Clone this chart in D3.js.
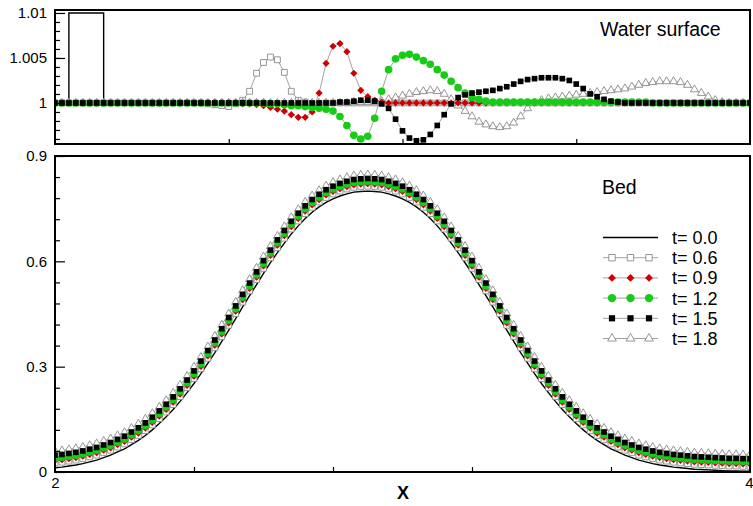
<!DOCTYPE html>
<html>
<head>
<meta charset="utf-8">
<script src="https://cdn.jsdelivr.net/npm/d3@7"></script>
<style>
  body { margin: 0; background: #fff; }
  svg { font-family: "Liberation Sans", Arial, sans-serif; }
</style>
</head>
<body>
<svg width="753" height="506"></svg>
<script>
const seriesNames = ['t= 0.0', 't= 0.6', 't= 0.9', 't= 1.2', 't= 1.5', 't= 1.8'];

// mesh nodes, dx = 0.02
const nodeX = d3.range(101).map(i => 2 + i * 0.02);

// water surface, t = 0 : rectangular hump
const surf00X = [2, 2.04, 2.04, 2.14, 2.14, 4];
const surf00Y = [1, 1, 1.01, 1.01, 1, 1];

// water surface for later times: first node + deviation from 1 (x 1e-4)
const surf06Start = 22;
const surf06Dev = [-1, -2, -3, -4, -1, 3, 13, 33, 45, 51, 48, 34, 13, 3, 1, -1, -1, 0];
const surf09Start = 27;
const surf09Dev = [-1, -1, -2, -3, -5, -7, -9, -13, -16, -16, -10, 11, 44, 63, 66, 57, 33, 14, 7, 3, 1, 0];
const surf12Start = 31;
const surf12Dev = [-1, -1, -2, -3, -3, -4, -5, -6, -7, -9, -15, -25, -36, -40, -37, -17, 13, 37, 49, 53,
  54, 51, 47, 43, 37, 31, 24, 17, 11, 6, 4, 2, 1, 1, 1, 1, 1, 1, 1, 1, 1, 1, 1, 1, 1, 1, 1, 1, 1, 1, 1, 1, 1, 1, 1, 0];
const surf15Start = 41;
const surf15Dev = [1, 1, 2, 3, 3, 2, -1, -6, -18, -31, -39, -42, -41, -35, -25, -13, -1, 6, 9, 11,
  12, 13, 14, 16, 18, 21, 24, 26, 27, 28, 28, 28, 27, 25, 21, 16, 10, 7, 4, 2, 1, 0];
const surf18Start = 42;
const surf18Dev = [0, 1, 1, 1, 1, 2, 4, 6, 8, 10, 12, 13, 14, 13, 10, 4, -3, -9, -15, -21,
  -24, -26, -27, -26, -22, -15, -6, 0, 3, 5, 6, 7, 8, 9, 10, 11, 12, 13, 14, 15,
  16, 18, 20, 22, 23, 24, 24, 24, 23, 20, 15, 11, 7, 3, 1, 0];

// bed at t = 0, one value per node
const bed00 = [
  0.012, 0.014, 0.017, 0.020, 0.024, 0.029, 0.034, 0.041, 0.048, 0.057,
  0.066, 0.078, 0.090, 0.104, 0.120, 0.138, 0.157, 0.178, 0.201, 0.226,
  0.252, 0.280, 0.310, 0.340, 0.372, 0.404, 0.437, 0.470, 0.502, 0.534,
  0.566, 0.596, 0.625, 0.652, 0.678, 0.701, 0.722, 0.740, 0.755, 0.768,
  0.778, 0.786, 0.792, 0.797, 0.799, 0.800,
  0.799, 0.797, 0.792, 0.786, 0.778, 0.768, 0.755, 0.740, 0.722, 0.701,
  0.678, 0.652, 0.625, 0.596, 0.566, 0.534, 0.502, 0.470, 0.437, 0.404,
  0.372, 0.340, 0.310, 0.280, 0.252, 0.226, 0.201, 0.178, 0.157, 0.138,
  0.120, 0.104, 0.090, 0.078, 0.066, 0.057, 0.048, 0.041, 0.034, 0.029,
  0.024, 0.020, 0.017, 0.014, 0.012, 0.010, 0.008, 0.007, 0.006, 0.005,
  0.004, 0.003, 0.003, 0.002, 0.002
];
// how far the bed markers of t = 0.6 ... 1.8 sit above the t = 0 bed
const bedRise = [0.014, 0.021, 0.028, 0.036, 0.047];

const xTicks = [2, 4], xTickLabels = ['2', '4'];
const surfTicks = [1, 1.005, 1.01], surfTickLabels = ['1', '1.005', '1.01'];
const bedTicks = [0, 0.3, 0.6, 0.9], bedTickLabels = ['0', '0.3', '0.6', '0.9'];

const svg = d3.select('svg');

const x = d3.scaleLinear().domain([2, 4]).range([55, 750]);
const ySurf = d3.scaleLinear().domain([0.99544, 1.01033]).range([144, 10]);
const yBed = d3.scaleLinear().domain([0, 0.9]).range([472, 156]);

function expand(start, dev) {
  return nodeX.map((d, i) => 1 + (dev[i - start] || 0) * 1e-4);
}

const surfSeries = [
  expand(surf06Start, surf06Dev),
  expand(surf09Start, surf09Dev),
  expand(surf12Start, surf12Dev),
  expand(surf15Start, surf15Dev),
  expand(surf18Start, surf18Dev)
];
const bedSeries = bedRise.map(r => bed00.map(v => v + r));

// marker styles for t = 0.6 .. 1.8
const styles = [
  { type: d3.symbolSquare, size: 34, rot: 0, fill: '#fff', stroke: '#8a8a8a' },
  { type: d3.symbolSquare, size: 26, rot: 45, fill: '#cc0000', stroke: 'none' },
  { type: d3.symbolCircle, size: 46, rot: 0, fill: '#16cc16', stroke: 'none' },
  { type: d3.symbolSquare, size: 32, rot: 0, fill: '#000', stroke: 'none' },
  { type: d3.symbolTriangle, size: 28, rot: 0, fill: '#fff', stroke: '#8a8a8a' }
];
// drawing order: squares, triangles, then the filled ones on top
const drawOrder = [0, 4, 1, 2, 3];

const defs = svg.append('defs');
defs.append('clipPath').attr('id', 'clipTop')
  .append('rect').attr('x', 55).attr('y', 10).attr('width', 695).attr('height', 134);
defs.append('clipPath').attr('id', 'clipBed')
  .append('rect').attr('x', 55).attr('y', 156).attr('width', 695).attr('height', 316);

function drawPanel(clipId, yScale, t0x, t0y, series) {
  const g = svg.append('g').attr('clip-path', `url(#${clipId})`);

  g.append('path')
    .attr('d', d3.line().x((d, i) => x(t0x[i])).y(d => yScale(d))(t0y))
    .attr('fill', 'none')
    .attr('stroke', '#000')
    .attr('stroke-width', 1.4);

  drawOrder.forEach(k => {
    const vals = series[k];
    const st = styles[k];
    g.append('path')
      .attr('d', d3.line().x((d, i) => x(nodeX[i])).y(d => yScale(d))(vals))
      .attr('fill', 'none')
      .attr('stroke', '#a3a3a3')
      .attr('stroke-width', 1);

    g.append('g')
      .selectAll('path')
      .data(vals)
      .join('path')
      .attr('d', d3.symbol().type(st.type).size(st.size))
      .attr('transform', (d, i) => `translate(${x(nodeX[i])},${yScale(d)}) rotate(${st.rot})`)
      .attr('fill', st.fill)
      .attr('stroke', st.stroke)
      .attr('stroke-width', 0.9);
  });
}

drawPanel('clipTop', ySurf, surf00X, surf00Y, surfSeries);
drawPanel('clipBed', yBed, nodeX, bed00, bedSeries);

// axes
function styleAxis(g, size) {
  g.select('.domain').remove();
  g.selectAll('line').attr('stroke', '#000').attr('stroke-width', 1.2);
  g.selectAll('text').attr('fill', '#000').style('font-size', size + 'px');
}

svg.append('g').attr('transform', 'translate(55,0)')
  .call(d3.axisLeft(ySurf).tickValues(d3.range(0.996, 1.0095, 0.001)).tickSize(-5).tickFormat(''))
  .call(g => styleAxis(g, 15));
svg.append('g').attr('transform', 'translate(55,0)')
  .call(d3.axisLeft(ySurf).tickValues(surfTicks).tickSize(-10).tickPadding(8)
    .tickFormat((d, i) => surfTickLabels[i]))
  .call(g => styleAxis(g, 15));

const bedMinor = d3.range(0.06, 0.9, 0.06).filter(v => Math.abs(v / 0.3 - Math.round(v / 0.3)) > 0.01);
svg.append('g').attr('transform', 'translate(55,0)')
  .call(d3.axisLeft(yBed).tickValues(bedMinor).tickSize(-5).tickFormat(''))
  .call(g => styleAxis(g, 15));
svg.append('g').attr('transform', 'translate(55,0)')
  .call(d3.axisLeft(yBed).tickValues(bedTicks).tickSize(-10).tickPadding(8)
    .tickFormat((d, i) => bedTickLabels[i]))
  .call(g => styleAxis(g, 15));

svg.append('g').attr('transform', 'translate(0,144)')
  .call(d3.axisBottom(x).tickValues([2.5, 3, 3.5]).tickSize(-5).tickFormat(''))
  .call(g => styleAxis(g, 15));
svg.append('g').attr('transform', 'translate(0,472)')
  .call(d3.axisBottom(x).tickValues([2.4, 2.8, 3.2, 3.6]).tickSize(-5).tickFormat(''))
  .call(g => styleAxis(g, 15));
svg.append('g').attr('transform', 'translate(0,472)')
  .call(d3.axisBottom(x).tickValues(xTicks).tickSize(0).tickPadding(5)
    .tickFormat((d, i) => xTickLabels[i]))
  .call(g => styleAxis(g, 15))
  .call(g => g.selectAll('text').filter((d, i) => i === 1)
    .attr('text-anchor', 'end').attr('x', 753 - x(4)));

// frames
svg.append('rect').attr('x', 55).attr('y', 10).attr('width', 695).attr('height', 134)
  .attr('fill', 'none').attr('stroke', '#000').attr('stroke-width', 2);
svg.append('rect').attr('x', 55).attr('y', 156).attr('width', 695).attr('height', 316)
  .attr('fill', 'none').attr('stroke', '#000').attr('stroke-width', 2);

// titles
svg.append('text').attr('x', 600).attr('y', 36).text('Water surface')
  .style('font-size', '19.5px').attr('fill', '#000');
svg.append('text').attr('x', 602).attr('y', 194).text('Bed')
  .style('font-size', '19.5px').attr('fill', '#000');
svg.append('text').attr('x', 403).attr('y', 499).text('X')
  .attr('text-anchor', 'middle').style('font-size', '18px').style('font-weight', 'bold');

// legend
const legend = svg.append('g');
const rowY = d => 237.5 + d * 20.2;
seriesNames.forEach((name, k) => {
  const row = legend.append('g').attr('transform', `translate(0,${rowY(k)})`);
  row.append('line').attr('x1', 603).attr('x2', 658)
    .attr('stroke', k === 0 ? '#000' : '#a3a3a3')
    .attr('stroke-width', k === 0 ? 1.4 : 1);
  if (k > 0) {
    const st = styles[k - 1];
    [612, 630.5, 649].forEach(mx => {
      row.append('path')
        .attr('d', d3.symbol().type(st.type).size(st.size * 1.2))
        .attr('transform', `translate(${mx},0) rotate(${st.rot})`)
        .attr('fill', st.fill)
        .attr('stroke', st.stroke)
        .attr('stroke-width', 0.9);
    });
  }
  row.append('text').attr('x', 672).attr('y', 0).attr('dy', '0.36em')
    .text(name).style('font-size', '18px').attr('fill', '#000');
});
</script>
</body>
</html>
